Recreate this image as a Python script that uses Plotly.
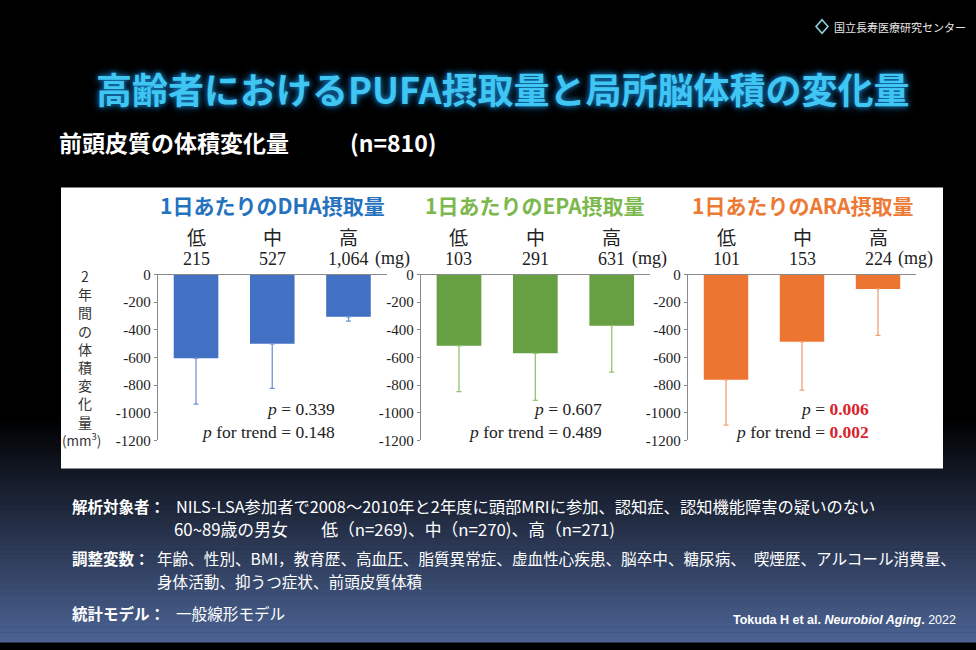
import plotly.graph_objects as go

# ---------------- data ----------------
intake_levels = ["低", "中", "高"]
dha_intake_mg = ["215", "527", "1,064"]
epa_intake_mg = ["103", "291", "631"]
ara_intake_mg = ["101", "153", "224"]

dha_change = [-605, -501, -306]
dha_err = [332, 323, 31]
epa_change = [-515, -570, -370]
epa_err = [332, 341, 336]
ara_change = [-762, -487, -104]
ara_err = [328, 349, 336]

panel_titles = ["1日あたりのDHA摂取量", "1日あたりのEPA摂取量", "1日あたりのARA摂取量"]
p_values = ["0.339", "0.607", "0.006"]
p_trend = ["0.148", "0.489", "0.002"]
p_significant = [False, False, True]

y_tickvals = [0, -200, -400, -600, -800, -1000, -1200]
y_ticktext = ["0", "-200", "-400", "-600", "-800", "-1000", "-1200"]
y_title_chars = list("2年間の体積変化量")

# ---------------- styling ----------------
W, H = 976, 650
def px(x): return x / W
def py(y): return 1 - y / H

bar_colors = ["#4270c2", "#66a043", "#ec7531"]
err_colors = ["#6f93d2", "#93c276", "#f2a173"]
title_colors = ["#2472bd", "#7cb84c", "#ec7a35"]
x_domains = [(157.9, 386.6), (420.8, 649.9), (688.0, 916.0)]
y_domain = [py(443.3), py(273.3)]
pv_right = [337, 604, 871]

JP = "Noto Sans CJK JP"
SERIF = "Liberation Serif"

fig = go.Figure()
series = [(dha_change, dha_err, dha_intake_mg), (epa_change, epa_err, epa_intake_mg),
          (ara_change, ara_err, ara_intake_mg)]

annotations = []
shapes = []

# background gradient (bottom part of slide)
g0, g1 = 420, 650
steps = 46
for i in range(steps):
    t = (i + 0.5) / steps
    r, g, b = int(0 + 76 * t), int(0 + 99 * t), int(0 + 148 * t)
    y0 = g0 + (g1 - g0) * i / steps
    y1 = g0 + (g1 - g0) * (i + 1) / steps + 0.5
    shapes.append(dict(type="rect", xref="paper", yref="paper", x0=0, x1=1,
                       y0=py(y1), y1=py(y0), fillcolor=f"rgb({r},{g},{b})",
                       line=dict(width=0), layer="below"))
# white panel
shapes.append(dict(type="rect", xref="paper", yref="paper", x0=px(61), x1=px(943),
                   y0=py(472), y1=py(184), fillcolor="white", line=dict(width=0), layer="below"))

for i, (vals, errs, mg) in enumerate(series):
    sfx = "" if i == 0 else str(i + 1)
    fig.add_trace(go.Bar(
        x=intake_levels, y=vals, xaxis="x" + sfx, yaxis="y" + sfx,
        marker=dict(color=bar_colors[i], line=dict(width=0)), width=0.585,
        error_y=dict(type="data", symmetric=False, array=[0, 0, 0], arrayminus=errs,
                     color=err_colors[i], thickness=1.3, width=2.5),
        showlegend=False, hoverinfo="skip"))
    d = x_domains[i]
    fig.layout["xaxis" + sfx] = dict(
        domain=[px(d[0]), px(d[1])], anchor="y" + sfx, side="top",
        type="category", range=[-0.5, 2.5], showline=True, linecolor="#8a8a8a",
        linewidth=1.3, showticklabels=False, ticks="", showgrid=False, zeroline=False,
        fixedrange=True)
    fig.layout["yaxis" + sfx] = dict(
        domain=y_domain, anchor="x" + sfx, range=[-1200, 0], showline=True,
        linecolor="#8a8a8a", linewidth=1.3, tickvals=y_tickvals, ticktext=y_ticktext,
        tickfont=dict(family=SERIF, size=15, color="#222"), ticks="outside", ticklen=3,
        tickcolor="#8a8a8a", showgrid=False, zeroline=False, fixedrange=True)

    xr = "x" + sfx
    # panel title
    annotations.append(dict(text=f"<b>{panel_titles[i]}</b>", xref=xr + " domain", yref="paper",
                            x=0.5, y=py(202), showarrow=False, xanchor="center", yanchor="middle",
                            font=dict(family=JP, size=21, color=title_colors[i])))
    for j, lvl in enumerate(intake_levels):
        annotations.append(dict(text=lvl, xref=xr, yref="paper", x=lvl, y=py(234),
                                showarrow=False, xanchor="center", yanchor="middle",
                                font=dict(family=JP, size=19, color="#222")))
        annotations.append(dict(text=mg[j], xref=xr, yref="paper", x=lvl, y=py(257),
                                showarrow=False, xanchor="center", yanchor="middle",
                                font=dict(family=SERIF, size=18, color="#222")))
    half = 20 if len(mg[2]) > 3 else 13.5
    annotations.append(dict(text="(mg)", xref=xr, yref="paper", x=intake_levels[2], y=py(257),
                            xshift=half + 4.5, showarrow=False, xanchor="left", yanchor="middle",
                            font=dict(family=SERIF, size=18, color="#222")))
    # p-values (two right-aligned lines in one text)
    if p_significant[i]:
        pv = f"<i>p</i> = <b><span style='color:#d8232b'>{p_values[i]}</span></b>"
        pt = f"<i>p</i> for trend = <b><span style='color:#d8232b'>{p_trend[i]}</span></b>"
    else:
        pv = f"<i>p</i> = {p_values[i]}"
        pt = f"<i>p</i> for trend = {p_trend[i]}"
    annotations.append(dict(text=pv + "<br>" + pt, xref="paper", yref="paper", x=px(pv_right[i]),
                            y=py(423), showarrow=False, xanchor="right", yanchor="middle",
                            align="right", font=dict(family=SERIF, size=17.5, color="#222")))

# vertical y-axis title (one stacked text)
annotations.append(dict(text="<br>".join(y_title_chars), xref="paper", yref="paper",
                        x=px(85), y=py(262), showarrow=False, xanchor="center", yanchor="top",
                        font=dict(family=JP, size=14, color="#333")))
annotations.append(dict(text="(mm<sup>3</sup>)", xref="paper", yref="paper", x=px(81), y=py(442),
                        showarrow=False, xanchor="center", yanchor="middle",
                        font=dict(family=JP, size=13.5, color="#333")))

# slide texts
annotations.append(dict(text="<b>高齢者におけるPUFA摂取量と局所脳体積の変化量</b>", xref="paper", yref="paper",
                        x=px(503), y=py(82), showarrow=False, xanchor="center", yanchor="middle",
                        font=dict(family=JP, size=36, color="#3fc6f3",
                                  shadow="0 0 5px #1677b8, 0 0 9px #0f5f98")))
annotations.append(dict(text="<b>前頭皮質の体積変化量</b>", xref="paper", yref="paper",
                        x=px(57), y=py(137), showarrow=False, xanchor="left", yanchor="middle",
                        font=dict(family=JP, size=23, color="white")))
annotations.append(dict(text="<b>(n=810)</b>", xref="paper", yref="paper",
                        x=px(348), y=py(137), showarrow=False, xanchor="left", yanchor="middle",
                        font=dict(family=JP, size=23, color="white")))
annotations.append(dict(text="国立長寿医療研究センター", xref="paper", yref="paper",
                        x=px(832), y=py(19), showarrow=False, xanchor="left", yanchor="middle",
                        font=dict(family=JP, size=11, color="#e8e8e8")))
shapes.append(dict(type="path", xref="paper", yref="paper",
                   path=f"M {px(822)} {py(12)} L {px(828)} {py(19)} L {px(822)} {py(26)} L {px(816)} {py(19)} Z",
                   line=dict(color="#8fd8e2", width=1.5), fillcolor="rgba(0,0,0,0)"))

lab = dict(family=JP, size=15.5, color="white")
lines = [
    ("<b>解析対象者：</b>", 70, 511, "NILS-LSA参加者で2008～2010年と2年度に頭部MRIに参加、認知症、認知機能障害の疑いのない", 174, 16.3),
    (None, 0, 534, "60~89歳の男女　　低（n=269)、中（n=270)、高（n=271)", 172, 16.8),
    ("<b>調整変数：</b>", 70, 564, "年齢、性別、BMI，教育歴、高血圧、脂質異常症、虚血性心疾患、脳卒中、糖尿病、　喫煙歴、アルコール消費量、", 155, 15.6),
    (None, 0, 587, "身体活動、抑うつ症状、前頭皮質体積", 155, 15.6),
    ("<b>統計モデル：</b>", 70, 620, "一般線形モデル", 174, 15.6),
]
for labtxt, lx, ly, txt, tx, fs in lines:
    if labtxt:
        annotations.append(dict(text=labtxt, xref="paper", yref="paper", x=px(lx), y=py(ly),
                                showarrow=False, xanchor="left", yanchor="middle", font=lab))
    annotations.append(dict(text=txt, xref="paper", yref="paper", x=px(tx), y=py(ly),
                            showarrow=False, xanchor="left", yanchor="middle",
                            font=dict(family=JP, size=fs, color="white")))
annotations.append(dict(text="<b>Tokuda H et al. <i>Neurobiol Aging</i>.</b> 2022", xref="paper", yref="paper",
                        x=px(958), y=py(627), showarrow=False, xanchor="right", yanchor="middle",
                        font=dict(family="Liberation Sans", size=12.5, color="white")))

fig.update_layout(
    width=W, height=H, margin=dict(l=0, r=0, t=0, b=0),
    paper_bgcolor="black", plot_bgcolor="rgba(0,0,0,0)",
    annotations=annotations, shapes=shapes, bargap=0.4, showlegend=False)

fig.write_html("out.html", config={"displayModeBar": False},
               post_script="document.body.style.margin='0';document.body.style.background='black';")
